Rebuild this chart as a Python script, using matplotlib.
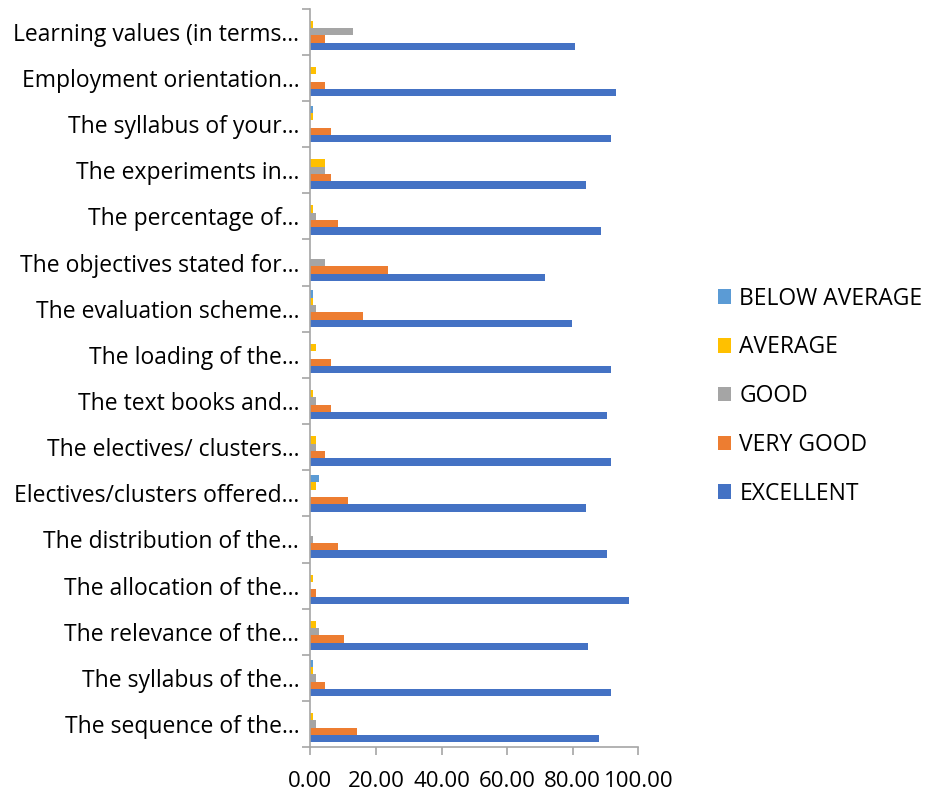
import matplotlib
matplotlib.use("Agg")
import matplotlib.pyplot as plt
import numpy as np

plt.rcParams['font.family'] = ['Open Sans', 'DejaVu Sans']

categories = [
    "The sequence of the...",
    "The syllabus of the...",
    "The relevance of the...",
    "The allocation of the...",
    "The distribution of the...",
    "Electives/clusters offered...",
    "The electives/ clusters...",
    "The text books and...",
    "The loading of the...",
    "The evaluation scheme...",
    "The objectives stated for...",
    "The percentage of...",
    "The experiments in...",
    "The syllabus of your...",
    "Employment orientation...",
    "Learning values (in terms...",
]

excellent = [87.9, 91.5, 84.7, 97.1, 90.5, 83.9, 91.5, 90.5, 91.5, 79.9, 71.4, 88.5, 83.9, 91.5, 93.2, 80.8]
very_good = [14.1, 4.5, 10.4, 1.7, 8.5, 11.4, 4.5, 6.4, 6.4, 15.9, 23.6, 8.3, 6.4, 6.4, 4.5, 4.5]
good = [1.8, 1.8, 2.7, 0.0, 0.7, 0.0, 1.8, 1.8, 0.0, 1.8, 4.5, 1.8, 4.5, 0.0, 0.0, 13.1]
average = [0.7, 0.7, 1.8, 0.7, 0.0, 1.8, 1.8, 0.7, 1.8, 0.7, 0.0, 0.7, 4.5, 0.7, 1.8, 0.7]
below_average = [0.0, 0.7, 0.0, 0.0, 0.0, 2.7, 0.0, 0.0, 0.0, 0.7, 0.0, 0.0, 0.0, 0.7, 0.0, 0.0]

series = [
    ("EXCELLENT", excellent, "#4472C4"),
    ("VERY GOOD", very_good, "#ED7D31"),
    ("GOOD", good, "#A5A5A5"),
    ("AVERAGE", average, "#FFC000"),
    ("BELOW AVERAGE", below_average, "#5B9BD5"),
]
x_ticks = [0, 20, 40, 60, 80, 100]

fig = plt.figure(figsize=(9.32, 7.94), dpi=100)
ax = fig.add_axes([0.333, 0.059, 0.352, 0.930])

n = len(series)
bw = 0.159
y = np.arange(len(categories))
handles = []
for i, (name, vals, col) in enumerate(series):
    off = (i - (n - 1) / 2) * bw
    h = ax.barh(y + off, vals, height=bw, color=col, label=name)
    handles.append(h)

ax.set_ylim(-0.5, len(categories) - 0.5)
ax.set_xlim(0, 100)
ax.set_yticks(y)
ax.set_yticklabels(categories, fontsize=16.5)
ax.set_yticks(np.arange(-0.5, len(categories), 1), minor=True)
ax.tick_params(axis='y', which='major', length=0, pad=8)
ax.tick_params(axis='y', which='minor', length=6, color='#A6A6A6', width=1.2)
ax.set_xticks(x_ticks)
ax.set_xticklabels([f"{v:.2f}" for v in x_ticks], fontsize=16)
ax.tick_params(axis='x', length=6, color='#A6A6A6', width=1.2, pad=11)
for s in ['top', 'right']:
    ax.spines[s].set_visible(False)
for s in ['left', 'bottom']:
    ax.spines[s].set_color('#A6A6A6')
    ax.spines[s].set_linewidth(1.2)

leg = fig.legend(handles[::-1], [s[0] for s in series][::-1], loc='center left',
                 bbox_to_anchor=(0.770, 0.501), frameon=False, fontsize=16.5,
                 handlelength=0.6, handleheight=0.6, labelspacing=1.08,
                 handletextpad=0.35, borderaxespad=0, borderpad=0)

fig.savefig("out.png", dpi=100)
